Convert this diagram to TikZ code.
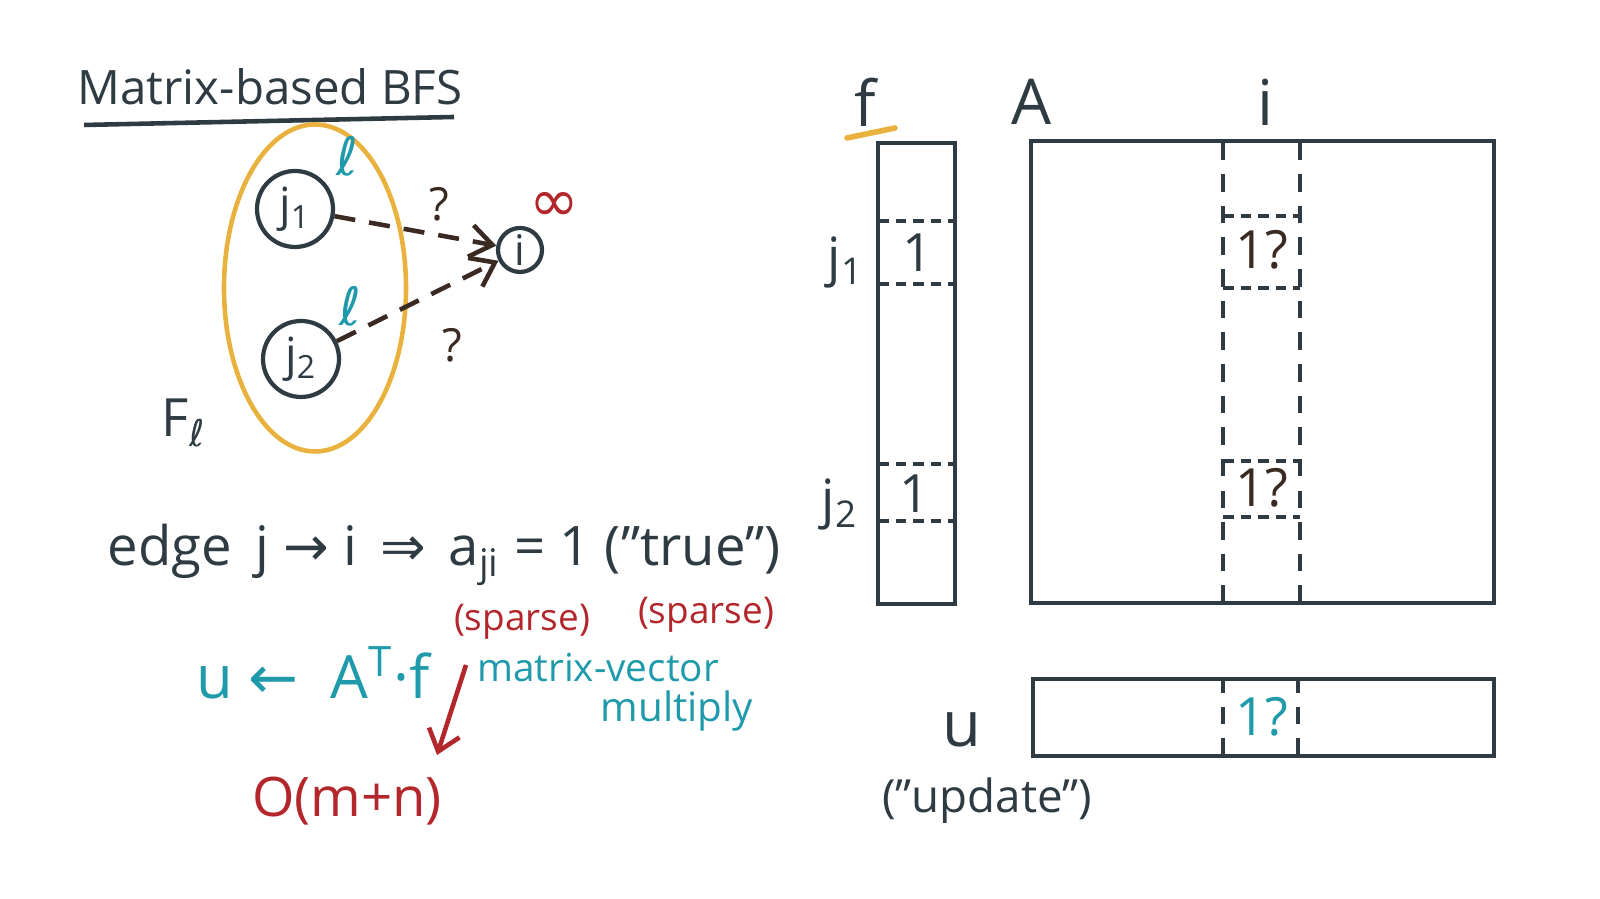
\documentclass[tikz,border=0pt]{standalone}
\usepackage{fontspec}
\setmainfont{Open Sans}
\newfontfamily\symf{DejaVu Sans}
\usepackage{tikz}
\usetikzlibrary{arrows.meta,shapes.geometric}
\definecolor{ink}{HTML}{2E3B42}
\definecolor{brownink}{HTML}{3B2A22}
\definecolor{marker}{HTML}{E9B23E}
\definecolor{tealink}{HTML}{1E9AAB}
\definecolor{redink}{HTML}{B3262B}

\begin{document}
\begin{tikzpicture}[
  hand/.style={font=\fontsize{15}{18}\selectfont, text=ink, inner sep=1pt},
  vtx/.style={draw=ink, circle, line width=1.2pt, minimum size=0.76cm, inner sep=0pt, font=\fontsize{13}{15}\selectfont, text=ink},
  edgearr/.style={draw=brownink, line width=1.3pt, dash pattern=on 6pt off 4pt, -{Straight Barb[length=2.2mm,width=3.2mm]}},
  box/.style={draw=ink, line width=1.2pt},
  cell/.style={draw=ink, line width=1pt, dash pattern=on 3pt off 2pt},
  colline/.style={draw=ink, line width=1pt, dash pattern=on 5pt off 4pt}
]
\useasboundingbox (0,0) rectangle (16,8.99);

% Title
\node[hand, font=\fontsize{13.5}{16}\selectfont] (title) at (2.70,8.12) {Matrix-based BFS};
\draw[ink, line width=1.3pt] (0.84,7.74) -- (4.54,7.82);

% Frontier F_l with two vertices and target i
\node[draw=marker, line width=1.3pt, ellipse, minimum width=1.82cm, minimum height=3.27cm] (front) at (3.15,6.11) {};
\node[vtx] (j1) at (2.95,6.90) {j\textsubscript{1}};
\node[vtx] (j2) at (3.01,5.40) {j\textsubscript{2}};
\node[vtx, minimum size=0.44cm, font=\fontsize{12}{14}\selectfont] (i) at (5.20,6.49) {i};
\node[hand, text=tealink, font=\symf\fontsize{15}{18}\selectfont] (lev1) at (3.47,7.43) {ℓ};
\node[hand, text=tealink, font=\symf\fontsize{15}{18}\selectfont] (lev2) at (3.50,5.93) {ℓ};
\node[hand, text=redink, font=\symf\fontsize{17}{20}\selectfont] (inf) at (5.54,6.92) {∞};
\node[hand, text=brownink, font=\fontsize{13}{15}\selectfont] (q1) at (4.39,6.95) {?};
\node[hand, text=brownink, font=\fontsize{13}{15}\selectfont] (q2) at (4.52,5.54) {?};
\node[hand] (Fl) at (1.84,4.76) {F\textsubscript{\symf ℓ}};

\draw[edgearr] (j1) -- (i);
\draw[edgearr] (j2) -- (i);

% Formulas
\node[hand, font=\fontsize{15.5}{18}\selectfont] (edge) at (4.44,3.44)
  {edge\, j {\symf →} i\, {\symf ⇒}\, a\textsubscript{ji} = 1 ("true")};
\node[hand, text=tealink, font=\fontsize{17}{20}\selectfont] (upd) at (3.13,2.26)
  {u {\symf ←}\; A\textsuperscript{T}·f};
\node[hand, text=redink, font=\fontsize{10.5}{13}\selectfont] (sp1) at (5.22,2.77) {(sparse)};
\node[hand, text=redink, font=\fontsize{10.5}{13}\selectfont] (sp2) at (7.06,2.84) {(sparse)};
\node[hand, text=tealink, font=\fontsize{11}{13}\selectfont] (mv) at (5.98,2.31) {matrix-vector};
\node[hand, text=tealink, font=\fontsize{11.5}{14}\selectfont] (mul) at (6.77,1.88) {multiply};
\node[hand, text=redink, font=\fontsize{15.5}{18}\selectfont] (omn) at (3.47,0.98) {O(m+n)};
\coordinate (cost) at (4.66,2.34);
\coordinate (costend) at (4.37,1.44);
\draw[redink, line width=1.3pt, -{Straight Barb[length=2mm,width=3.2mm]}] (cost) -- (costend);

% Vector f
\node[hand, font=\fontsize{18}{21}\selectfont] (flab) at (8.65,7.97) {f};
\draw[marker, line width=1.6pt, line cap=round] (8.47,7.61) -- (8.95,7.71);
\draw[box] (8.78,2.95) rectangle (9.55,7.56);
\draw[cell] (8.78,6.78) -- (9.55,6.78);
\draw[cell] (8.78,6.15) -- (9.55,6.15);
\draw[cell] (8.78,4.35) -- (9.55,4.35);
\draw[cell] (8.78,3.78) -- (9.55,3.78);
\node[hand] (f1) at (9.18,6.46) {1};
\node[hand] (f2) at (9.15,4.05) {1};
\node[hand] (fj1) at (8.46,6.36) {j\textsubscript{1}};
\node[hand] (fj2) at (8.40,3.94) {j\textsubscript{2}};

% Matrix A
\node[hand, font=\fontsize{18}{21}\selectfont] (Alab) at (10.31,7.97) {A};
\node[hand, font=\fontsize{18}{21}\selectfont] (ilab) at (12.65,7.97) {i};
\draw[box] (10.31,2.96) rectangle (14.94,7.58);
\draw[colline] (12.23,2.96) -- (12.23,7.58);
\draw[colline] (13.00,2.96) -- (13.00,7.58);
\draw[cell] (12.23,6.83) -- (13.00,6.83);
\draw[cell] (12.23,6.11) -- (13.00,6.11);
\draw[cell] (12.23,4.38) -- (13.00,4.38);
\draw[cell] (12.23,3.82) -- (13.00,3.82);
\node[hand, text=brownink] (a1) at (12.62,6.49) {1?};
\node[hand, text=brownink] (a2) at (12.62,4.11) {1?};

% Vector u
\draw[box] (10.33,1.43) rectangle (14.94,2.20);
\draw[colline] (12.23,1.43) -- (12.23,2.20);
\draw[colline] (12.98,1.43) -- (12.98,2.20);
\node[hand, text=tealink] (u1) at (12.62,1.82) {1?};
\node[hand, font=\fontsize{18}{21}\selectfont] (ulab) at (9.62,1.69) {u};
\node[hand, font=\fontsize{13}{16}\selectfont] (uname) at (9.87,0.98) {("update")};

\end{tikzpicture}
\end{document}
